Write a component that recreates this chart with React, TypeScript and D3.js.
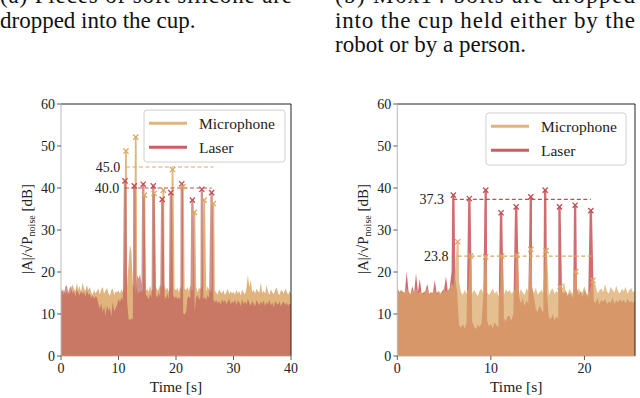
import React from "react";
import * as d3 from "d3";

const W = 640;
const H = 398;
const micColor = "#daa765";
const laserColor = "#c44e52";
const serif = "'Liberation Serif', 'Times New Roman', serif";

const yTicks = [0, 10, 20, 30, 40, 50, 60];
const leftXTicks = [0, 10, 20, 30, 40];
const rightXTicks = [0, 10, 20];
const seriesNames = ["Microphone", "Laser"];

// (a) silicone pieces, noise floor sampled every 0.25 s (0..40 s)
const leftDt = 0.25;
const leftMic = [
  16.2, 15.1, 15.9, 14.8, 15.4, 14.6, 15.0, 15.3, 17.1, 16.0, 15.4, 17.4, 15.8, 16.6, 15.2, 17.5, 16.1, 15.5, 16.9, 15.7,
  16.4, 15.2, 14.6, 15.8, 14.9, 15.5, 16.1, 14.7, 15.9, 16.4, 14.8, 15.6, 16.2, 15.0, 14.3, 15.7, 16.0, 14.5, 15.4, 15.1,
  15.6, 14.8, 15.9, 15.2, 16.3, 15.4, 16.8, 22.0, 26.5, 25.0, 17.0, 16.5, 15.9, 15.3, 14.9, 15.6, 15.1, 15.8, 16.6, 15.4,
  16.0, 15.3, 16.7, 15.5, 16.1, 15.0, 16.4, 15.6, 15.9, 17.0, 16.2, 15.4, 16.8, 15.7, 16.3, 15.1, 16.5, 15.8, 17.2, 16.0,
  15.6, 16.3, 15.2, 16.6, 15.8, 15.3, 16.1, 15.7, 16.4, 15.5, 16.9, 15.4, 16.0, 15.8, 16.5, 15.2, 16.2, 15.9, 16.7, 15.6,
  16.1, 15.4, 16.6, 15.8, 15.2, 16.0, 14.8, 15.6, 15.1, 14.6, 15.9, 15.3, 14.9, 15.7, 14.5, 15.2, 16.0, 14.7, 15.4, 14.9,
  15.3, 14.6, 15.8, 14.9, 15.5, 14.4, 15.9, 15.1, 14.7, 16.2, 19.3, 16.4, 18.1, 15.2, 15.8, 14.9, 16.0, 15.4, 15.1, 17.5,
  15.0, 15.6, 14.8, 16.9, 15.3, 14.6, 15.9, 15.2, 14.7, 15.8, 16.3, 15.0, 14.5, 15.7, 15.4, 14.9, 16.1, 15.3, 14.6, 15.5, 14.8,
];
const leftLaser = [
  15.2, 15.8, 14.6, 16.5, 16.9, 15.1, 16.2, 16.8, 14.9, 15.5, 14.2, 15.9, 15.0, 14.4, 15.6, 14.8, 15.3, 14.1, 15.7, 14.6,
  14.9, 13.8, 14.5, 13.6, 14.2, 13.9, 12.4, 11.2, 12.6, 10.4, 11.8, 9.6, 12.1, 10.8, 11.5, 9.4, 12.9, 10.6, 11.4, 12.2,
  13.6, 12.8, 13.9, 13.2, 14.1, 13.4, 13.0, 8.8, 8.6, 9.0, 8.7, 13.6, 14.8, 19.2, 18.4, 19.6, 17.2, 14.5, 13.8, 14.6,
  14.2, 13.5, 14.8, 13.9, 14.4, 13.1, 14.6, 13.8, 15.2, 14.0, 16.8, 15.9, 14.3, 13.6, 14.9, 13.4, 14.1, 13.2, 14.5, 13.7,
  14.3, 13.5, 14.0, 13.6, 14.4, 10.2, 9.9, 10.4, 13.8, 14.2, 13.6, 10.1, 9.8, 10.6, 13.9, 14.5, 13.4, 14.0, 14.7, 13.5,
  14.1, 13.3, 14.6, 13.8, 14.2, 13.0, 13.6, 12.7, 13.4, 12.5, 13.1, 12.2, 13.5, 12.8, 13.3, 12.4, 12.9, 13.7, 12.3, 13.0,
  12.6, 13.4, 12.1, 13.2, 12.8, 11.9, 13.5, 12.4, 13.0, 12.2, 13.6, 12.7, 12.0, 13.1, 12.5, 11.8, 13.3, 12.6, 12.1, 13.0,
  12.4, 13.2, 11.9, 12.8, 12.3, 13.4, 12.0, 12.7, 11.6, 13.1, 12.5, 12.2, 13.0, 11.8, 12.6, 12.9, 12.1, 12.7, 11.9, 12.5, 12.3,
];
const leftMicPeakT = [11.3, 13.0, 14.5, 16.2, 17.8, 19.4, 21.2, 23.2, 24.9, 26.5];
const leftMicPeakV = [48.8, 52.1, 38.3, 38.7, 39.5, 44.4, 40.3, 34.2, 37.1, 36.3];
const leftLaserPeakT = [11.13, 12.75, 14.3, 16.05, 17.6, 19.1, 21.0, 22.85, 24.5, 26.2];
const leftLaserPeakV = [41.7, 40.5, 40.9, 40.5, 37.3, 38.9, 41.0, 37.1, 39.7, 38.9];
const leftMeans = [45.0, 40.0]; // mic, laser

// (b) M6x14 bolts, sampled every 0.2 s (0..25.4 s)
const rightDt = 0.2;
const rightMic = [
  15.6, 15.0, 15.9, 14.8, 15.3, 16.2, 15.1, 14.7, 15.8, 15.4, 16.0, 14.9, 15.5, 15.2, 14.6, 15.7, 16.1, 15.0, 14.8, 15.3, 15.9, 14.5, 15.6, 15.1, 14.9, 16.3, 15.2, 15.8, 16.0, 17.5,
  16.5, 21.0, 24.5, 17.8, 15.2, 14.6, 15.7, 14.9, 16.2, 15.4, 14.8, 15.8, 15.0, 14.3, 15.6, 16.0, 14.7, 15.9, 15.1, 14.5, 15.3, 16.1, 14.8, 15.5, 14.2, 15.7, 15.0, 14.6, 15.9, 15.2,
  15.8, 14.9, 15.3, 16.0, 15.5, 14.7, 15.9, 15.1, 14.5, 16.2, 15.4, 14.8, 15.7, 15.0, 16.3, 14.6, 15.2, 15.8, 14.9, 16.0, 15.3, 14.4, 15.6, 16.1, 14.8, 15.5, 15.0, 16.4, 15.2, 17.8,
  15.3, 14.6, 16.0, 15.2, 14.9, 15.7, 15.1, 16.2, 14.8, 15.5, 16.6, 15.0, 14.7, 15.9, 16.3, 15.4, 16.8, 14.9, 15.6, 16.1, 15.2, 17.0, 15.5, 14.8, 16.4, 15.8, 15.1, 16.7, 15.3, 14.9,
  16.0, 15.4, 16.5, 14.8, 15.7, 16.2, 15.1, 15.6,
];
const rightLaser = [
  16.4, 15.2, 15.6, 15.3, 14.9, 20.1, 15.4, 14.5, 16.6, 15.0, 19.7, 15.2, 18.4, 14.8, 15.1, 15.4, 17.2, 14.7, 15.2, 14.9, 18.1, 15.0, 15.3, 14.6, 15.5, 15.9, 19.0, 15.4, 16.2, 20.1,
  22.0, 18.5, 15.2, 7.2, 6.8, 7.6, 6.5, 7.9, 14.5, 15.8, 8.2, 7.0, 6.4, 7.5, 6.9, 7.8, 15.0, 14.2, 8.4, 7.1, 7.7, 6.6, 8.0, 7.3, 6.8, 15.5, 14.6, 9.0, 8.2, 9.5,
  9.5, 8.4, 10.2, 9.1, 16.0, 14.3, 12.5, 13.8, 11.9, 13.2, 12.4, 10.8, 16.5, 14.1, 11.2, 10.5, 12.0, 11.1, 10.3, 15.8, 14.9, 9.2, 8.8, 10.0, 8.6, 9.4, 8.9, 16.2, 15.4, 14.8,
  15.6, 14.2, 15.0, 14.6, 13.8, 15.2, 16.1, 14.4, 15.5, 14.0, 15.8, 14.7, 13.9, 15.3, 16.4, 13.1, 12.6, 13.8, 12.2, 13.4, 12.9, 13.6, 12.4, 13.0, 12.7, 13.9, 12.3, 13.2, 12.8, 13.5,
  12.9, 13.4, 12.5, 13.7, 12.8, 13.1, 12.6, 13.3,
];
const rightMicPeakT = [6.46, 7.84, 9.45, 11.16, 12.77, 14.27, 15.9, 17.4, 19.07, 20.9];
const rightMicPeakV = [27.2, 23.8, 23.6, 23.8, 24.0, 25.4, 25.1, 16.5, 20.1, 18.0];
const rightLaserPeakT = [5.99, 7.7, 9.45, 11.09, 12.7, 14.27, 15.8, 17.33, 19.0, 20.68];
const rightLaserPeakV = [38.3, 37.5, 39.5, 34.1, 35.5, 37.9, 39.5, 35.5, 35.9, 34.6];
const rightMeans = [23.8, 37.3]; // mic, laser

type Pt = { t: number; v: number };

// noise samples with the drop peaks spliced in as narrow pulses
function withPeaks(values: number[], dt: number, peakT: number[], peakV: number[], w: number): Pt[] {
  const pts: Pt[] = values
    .map((v, i) => ({ t: i * dt, v }))
    .filter((p) => !peakT.some((tp) => Math.abs(p.t - tp) <= w / 2 + 1e-6));
  peakT.forEach((tp, i) => {
    pts.push({ t: tp - w / 2, v: peakV[i] }, { t: tp + w / 2, v: peakV[i] });
  });
  return pts.sort((a, b) => a.t - b.t);
}

function Panel({ cfg }: { cfg: any }) {
  const x = d3.scaleLinear().domain([0, cfg.tMax]).range([cfg.left, cfg.right]);
  const y = d3.scaleLinear().domain([0, 60]).range([356, 104]);
  const area = d3
    .area<Pt>()
    .x((d) => x(d.t))
    .y0(y(0))
    .y1((d) => y(d.v));

  const mic = withPeaks(cfg.mic, cfg.dt, cfg.micPeakT, cfg.micPeakV, cfg.micW);
  const laser = withPeaks(cfg.laser, cfg.dt, cfg.laserPeakT, cfg.laserPeakV, cfg.laserW);

  const micPath = <path d={area(mic) || ""} fill={micColor} fillOpacity={cfg.micOpacity} />;
  const laserPath = <path d={area(laser) || ""} fill={cfg.laserFill} fillOpacity={cfg.laserOpacity} />;

  const cross = (t: number, v: number, s = 2.6) => {
    const cx = x(t);
    const cy = y(v);
    return `M${cx - s},${cy - s}L${cx + s},${cy + s}M${cx - s},${cy + s}L${cx + s},${cy - s}`;
  };

  const meanLines = [
    { color: micColor, value: cfg.means[0], ts: cfg.micPeakT },
    { color: laserColor, value: cfg.means[1], ts: cfg.laserPeakT },
  ];

  const clipId = `clip-${cfg.id}`;
  const lg = cfg.legend;

  return (
    <g>
      <defs>
        <clipPath id={clipId}>
          <rect x={cfg.left} y={104} width={cfg.right - cfg.left} height={252} />
        </clipPath>
      </defs>
      <g clipPath={`url(#${clipId})`}>
        {cfg.micOnTop ? (
          <>
            {laserPath}
            {micPath}
          </>
        ) : (
          <>
            {micPath}
            {laserPath}
          </>
        )}
      </g>

      {meanLines.map((m, i) => {
        const t0 = d3.min(m.ts) as number;
        const t1 = d3.max(m.ts) as number;
        return (
          <g key={i}>
            <line
              x1={x(t0)}
              x2={x(t1)}
              y1={y(m.value)}
              y2={y(m.value)}
              stroke={m.color}
              strokeWidth={1.2}
              strokeDasharray="4,2.5"
            />
            <text
              x={x(t0 - 1)}
              y={y(m.value) + 5}
              textAnchor="end"
              fontSize={14}
              fontFamily={serif}
              fill="#222"
            >
              {m.value.toFixed(1)}
            </text>
          </g>
        );
      })}

      {cfg.laserPeakT.map((t: number, i: number) => (
        <path key={"l" + i} d={cross(t, cfg.laserPeakV[i])} stroke={laserColor} strokeWidth={1.3} fill="none" />
      ))}
      {cfg.micPeakT.map((t: number, i: number) => (
        <path key={"m" + i} d={cross(t, cfg.micPeakV[i])} stroke={micColor} strokeWidth={1.3} fill="none" />
      ))}

      {/* spines */}
      <line x1={cfg.left} x2={cfg.right} y1={104} y2={104} stroke="#222" strokeWidth={1} />
      <line x1={cfg.right} x2={cfg.right} y1={104} y2={356} stroke="#222" strokeWidth={1} />
      <line x1={cfg.left} x2={cfg.left} y1={104} y2={356} stroke="#bbb" strokeWidth={1} />
      <line x1={cfg.left} x2={cfg.right} y1={356} y2={356} stroke="#c8a090" strokeWidth={0.8} />

      {yTicks.map((v) => (
        <g key={"y" + v}>
          <line x1={cfg.left - 4} x2={cfg.left} y1={y(v)} y2={y(v)} stroke="#333" strokeWidth={0.8} />
          <text x={cfg.left - 6} y={y(v) + 5} textAnchor="end" fontSize={14} fontFamily={serif} fill="#222">
            {v}
          </text>
        </g>
      ))}
      {cfg.xTicks.map((t: number) => (
        <g key={"x" + t}>
          <line x1={x(t)} x2={x(t)} y1={356} y2={360} stroke="#333" strokeWidth={0.8} />
          <text x={x(t)} y={373} textAnchor="middle" fontSize={14} fontFamily={serif} fill="#222">
            {t}
          </text>
        </g>
      ))}
      <text x={(cfg.left + cfg.right) / 2} y={392} textAnchor="middle" fontSize={15.5} fontFamily={serif} fill="#222">
        Time [s]
      </text>
      <text
        transform={`translate(${cfg.left - 29},229) rotate(-90)`}
        textAnchor="middle"
        fontSize={15}
        fontFamily={serif}
        fill="#222"
      >
        |A|/√P
        <tspan dy={3} fontSize={10}>
          noise
        </tspan>
        <tspan dy={-3}> [dB]</tspan>
      </text>

      <rect
        x={lg.x}
        y={lg.y}
        width={lg.w}
        height={lg.h}
        rx={3}
        fill="#fff"
        fillOpacity={0.85}
        stroke="#d0d0d0"
        strokeWidth={1}
      />
      {seriesNames.map((name, i) => (
        <g key={name}>
          <line
            x1={lg.x + 5}
            x2={lg.x + 43}
            y1={lg.y + 13.3 + i * 24}
            y2={lg.y + 13.3 + i * 24}
            stroke={i === 0 ? micColor : laserColor}
            strokeOpacity={i === 0 ? 0.85 : 0.9}
            strokeWidth={3}
          />
          <text x={lg.x + 55} y={lg.y + 18.5 + i * 24} fontSize={15.5} fontFamily={serif} fill="#222">
            {name}
          </text>
        </g>
      ))}
    </g>
  );
}

const leftCfg = {
  id: "a",
  left: 61,
  right: 291,
  tMax: 40,
  dt: leftDt,
  mic: leftMic,
  laser: leftLaser,
  micPeakT: leftMicPeakT,
  micPeakV: leftMicPeakV,
  laserPeakT: leftLaserPeakT,
  laserPeakV: leftLaserPeakV,
  means: leftMeans,
  micW: 0.3,
  laserW: 0.4,
  micOnTop: false,
  micOpacity: 0.85,
  laserFill: "#bb5a5a",
  laserOpacity: 0.66,
  xTicks: leftXTicks,
  legend: { x: 144, y: 110, w: 141, h: 52 },
};

const rightCfg = {
  id: "b",
  left: 397.3,
  right: 635,
  tMax: 25.4,
  dt: rightDt,
  mic: rightMic,
  laser: rightLaser,
  micPeakT: rightMicPeakT,
  micPeakV: rightMicPeakV,
  laserPeakT: rightLaserPeakT,
  laserPeakV: rightLaserPeakV,
  means: rightMeans,
  micW: 0.2,
  laserW: 0.25,
  micOnTop: true,
  micOpacity: 0.72,
  laserFill: laserColor,
  laserOpacity: 0.82,
  xTicks: rightXTicks,
  legend: { x: 486, y: 113, w: 140, h: 52 },
};

export default function App() {
  return (
    <svg
      width={W}
      height={H}
      viewBox={`0 0 ${W} ${H}`}
      style={{ position: "absolute", left: 0, top: 0, background: "#fff" }}
    >
      <rect width={W} height={H} fill="#fff" />
      <g fontFamily={serif} fontSize={23} fill="#111">
        <text x={0} y={2.5} textLength={292} lengthAdjust="spacing">
          (a) Pieces of soft silicone are
        </text>
        <text x={0} y={27.5}>dropped into the cup.</text>
        <text x={335} y={2.5} textLength={300} lengthAdjust="spacing">
          (b) M6x14 bolts are dropped
        </text>
        <text x={335} y={27.5} textLength={300} lengthAdjust="spacing">
          into the cup held either by the
        </text>
        <text x={335} y={52}>robot or by a person.</text>
      </g>
      <Panel cfg={leftCfg} />
      <Panel cfg={rightCfg} />
    </svg>
  );
}
